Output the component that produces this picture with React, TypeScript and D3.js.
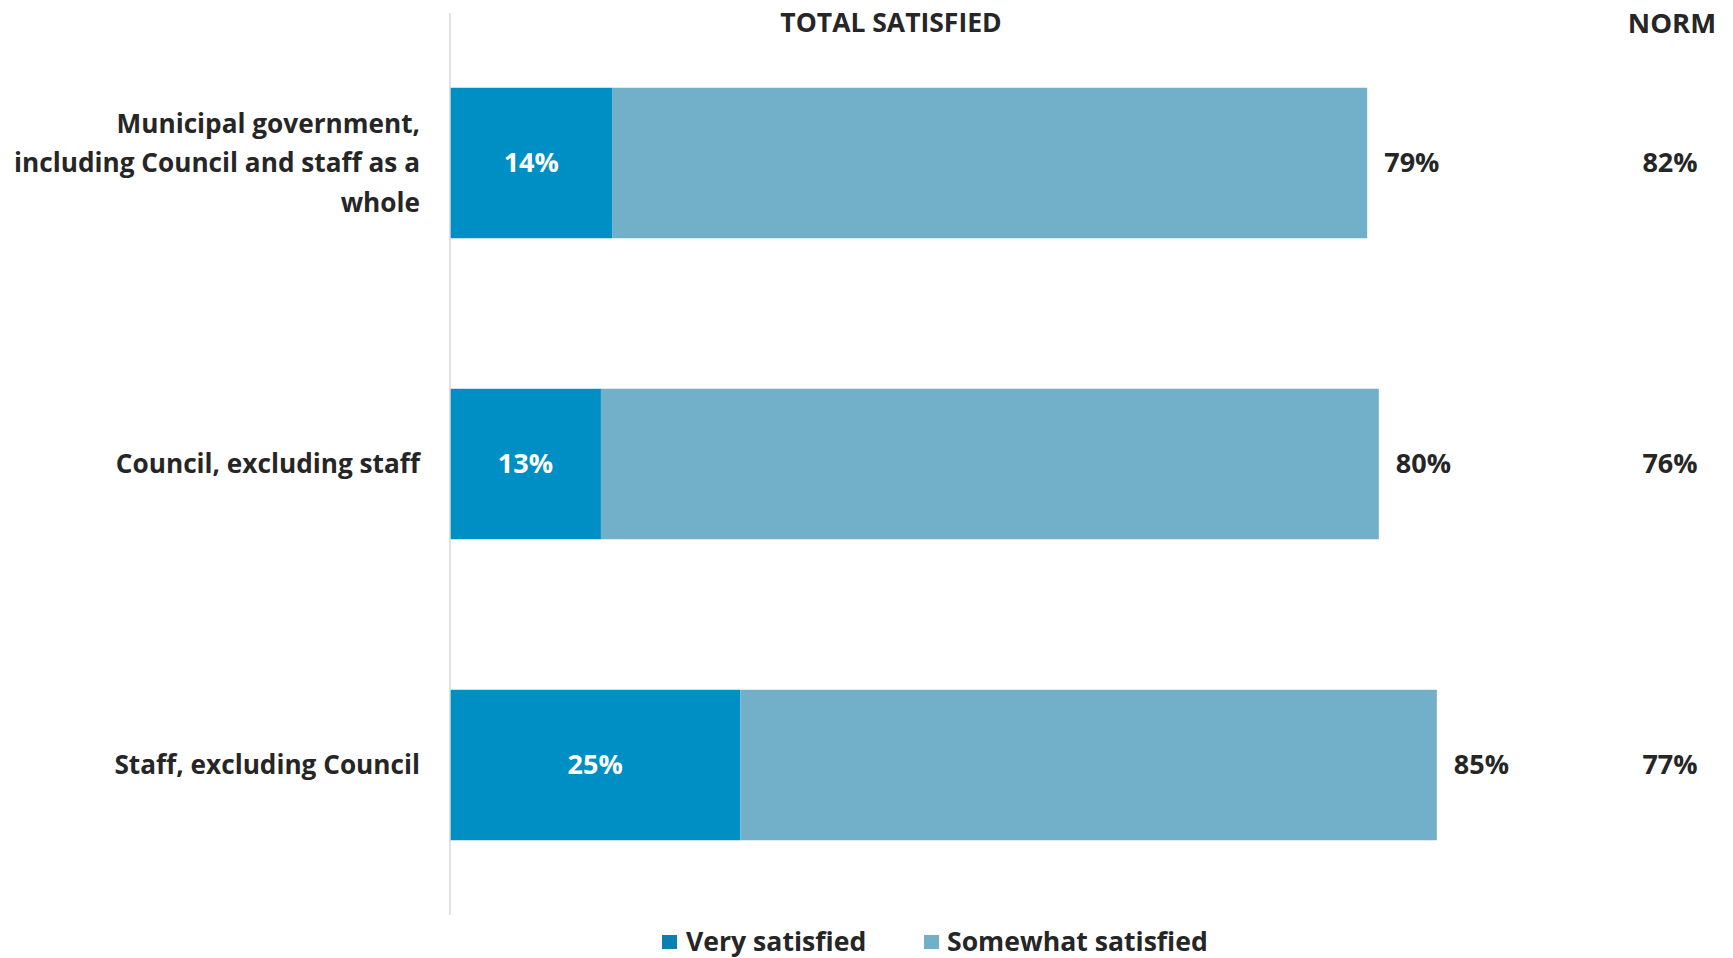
import React from "react";
import * as d3 from "d3";

const categories = [
  ["Municipal government,", "including Council and staff as a", "whole"],
  ["Council, excluding staff"],
  ["Staff, excluding Council"],
];
const verySatisfied = [14, 13, 25];
const totalSatisfied = [79, 80, 85];
const norm = [82, 76, 77];
const seriesNames = ["Very satisfied", "Somewhat satisfied"];

const W = 1733;
const H = 958;
const FONT = "'Open Sans', sans-serif";
const DARK = "#008FC5";
const LIGHT = "#72B0C9";
const TXT = "#262626";

export default function App() {
  const x = d3.scaleLinear().domain([0, 100]).range([450, 1611]);
  const y = d3
    .scaleBand<number>()
    .domain(d3.range(categories.length))
    .range([12.5, 915.5])
    .paddingInner(0.5)
    .paddingOuter(0.25);
  const bw = y.bandwidth();
  return (
    <svg
      width={W}
      height={H}
      style={{ position: "absolute", left: 0, top: 0, background: "#fff" }}
      fontFamily={FONT}
      fontWeight={700}
    >
      {categories.map((lines, i) => {
        const yc = y(i)! + bw / 2;
        const somewhat = totalSatisfied[i] - verySatisfied[i];
        return (
          <g key={i}>
            <rect x={x(0)} y={y(i)} width={x(verySatisfied[i]) - x(0)} height={bw} fill={DARK} />
            <rect
              x={x(verySatisfied[i])}
              y={y(i)}
              width={x(verySatisfied[i] + somewhat) - x(verySatisfied[i])}
              height={bw}
              fill={LIGHT}
            />
            <text
              x={(x(0) + x(verySatisfied[i])) / 2}
              y={yc}
              dy="0.35em"
              textAnchor="middle"
              fill="#fff"
              fontSize={27}
            >
              {verySatisfied[i]}%
            </text>
            <text x={x(totalSatisfied[i]) + 17} y={yc} dy="0.35em" fill={TXT} fontSize={27}>
              {totalSatisfied[i]}%
            </text>
            <text x={1670} y={yc} dy="0.35em" textAnchor="middle" fill={TXT} fontSize={27}>
              {norm[i]}%
            </text>
            {lines.map((l, j) => (
              <text
                key={j}
                x={420}
                y={yc + (j - (lines.length - 1) / 2) * 39.5}
                dy="0.35em"
                textAnchor="end"
                fill={TXT}
                fontSize={26.2}
              >
                {l}
              </text>
            ))}
          </g>
        );
      })}
      <line x1={450} x2={450} y1={13} y2={915} stroke="#d9d9d9" strokeWidth={1.5} />
      <text x={891} y={23} dy="0.35em" textAnchor="middle" fill={TXT} fontSize={26.5}>
        TOTAL SATISFIED
      </text>
      <text x={1672} y={23} dy="0.35em" textAnchor="middle" fill={TXT} fontSize={27.5}>
        NORM
      </text>
      <g>
        <rect x={662} y={935} width={15} height={14} fill="#0B80B0" />
        <text x={686} y={942} dy="0.35em" fill={TXT} fontSize={26.6}>
          {seriesNames[0]}
        </text>
        <rect x={924} y={935} width={15} height={14} fill={LIGHT} />
        <text x={947} y={942} dy="0.35em" fill={TXT} fontSize={26.6}>
          {seriesNames[1]}
        </text>
      </g>
    </svg>
  );
}
